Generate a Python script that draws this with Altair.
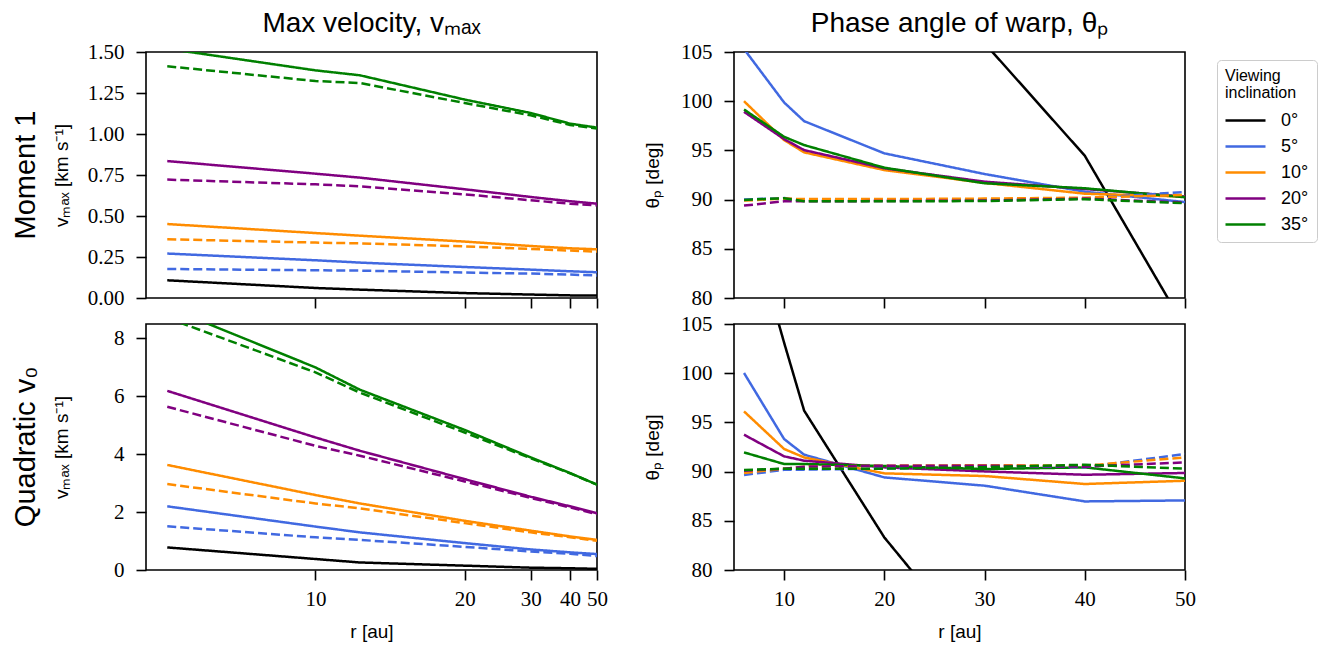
import altair as alt
import pandas as pd

R = [6, 10, 12, 20, 30, 40, 50]
INCLINATIONS = ["0°", "5°", "10°", "20°", "35°"]
COLORS = ["#000000", "#4169e1", "#ff8c00", "#800080", "#008000"]
STYLES = ["solid", "dashed"]
ROW_LABELS = ["Moment 1", "Quadratic v₀"]
COL_TITLES = ["Max velocity, vₘₐₓ", "Phase angle of warp, θₚ"]

# Moment 1 -- max velocity (km/s)
M1_V_SOLID_0 = [0.108, 0.061, 0.051, 0.030, 0.021, 0.016, 0.015]
M1_V_SOLID_5 = [0.271, 0.230, 0.216, 0.189, 0.173, 0.163, 0.157]
M1_V_SOLID_10 = [0.451, 0.396, 0.380, 0.344, 0.317, 0.303, 0.297]
M1_V_SOLID_20 = [0.835, 0.758, 0.734, 0.663, 0.616, 0.590, 0.575]
M1_V_SOLID_35 = [1.52, 1.388, 1.358, 1.210, 1.128, 1.063, 1.039]
M1_V_DASH_5 = [0.177, 0.169, 0.167, 0.155, 0.149, 0.143, 0.137]
M1_V_DASH_10 = [0.358, 0.338, 0.333, 0.315, 0.299, 0.289, 0.283]
M1_V_DASH_20 = [0.722, 0.693, 0.681, 0.632, 0.596, 0.575, 0.565]
M1_V_DASH_35 = [1.413, 1.323, 1.311, 1.189, 1.114, 1.055, 1.033]

# Quadratic v0 -- max velocity (km/s)
Q_V_SOLID_0 = [0.78, 0.38, 0.26, 0.15, 0.08, 0.06, 0.04]
Q_V_SOLID_5 = [2.20, 1.50, 1.30, 0.93, 0.71, 0.61, 0.55]
Q_V_SOLID_10 = [3.63, 2.59, 2.30, 1.70, 1.36, 1.16, 1.04]
Q_V_SOLID_20 = [6.19, 4.58, 4.12, 3.14, 2.53, 2.20, 1.96]
Q_V_SOLID_35 = [9.08, 7.00, 6.23, 4.84, 3.89, 3.35, 2.95]
Q_V_DASH_5 = [1.51, 1.13, 1.04, 0.80, 0.64, 0.56, 0.48]
Q_V_DASH_10 = [2.97, 2.30, 2.13, 1.62, 1.30, 1.13, 1.01]
Q_V_DASH_20 = [5.64, 4.29, 3.95, 3.06, 2.49, 2.16, 1.93]
Q_V_DASH_35 = [8.71, 6.83, 6.13, 4.75, 3.86, 3.34, 2.95]

# Moment 1 -- phase angle (deg)
M1_T_SOLID_0 = [140.0, 130.0, 125.0, 115.0, 105.9, 94.46, 77.0]
M1_T_SOLID_5 = [105.3, 99.87, 97.97, 94.70, 92.60, 90.80, 89.75]
M1_T_SOLID_10 = [100.0, 96.05, 94.80, 93.00, 91.70, 90.60, 90.30]
M1_T_SOLID_20 = [98.92, 96.15, 95.03, 93.18, 91.82, 91.08, 90.30]
M1_T_SOLID_35 = [99.16, 96.38, 95.54, 93.24, 91.66, 91.15, 90.24]
M1_T_DASH_5 = [90.00, 90.15, 89.95, 89.95, 90.00, 90.10, 90.78]
M1_T_DASH_10 = [89.90, 90.10, 90.05, 90.05, 90.10, 90.20, 90.47]
M1_T_DASH_20 = [89.39, 89.83, 89.83, 89.85, 89.90, 90.10, 89.70]
M1_T_DASH_35 = [89.97, 90.14, 89.83, 89.83, 89.85, 90.04, 89.63]

# Quadratic v0 -- phase angle (deg)
Q_T_SOLID_0 = [117.5, 103.1, 96.19, 83.31, 70.9, 62.0, 55.0]
Q_T_SOLID_5 = [100.02, 93.31, 91.72, 89.41, 88.57, 86.97, 87.07]
Q_T_SOLID_10 = [96.12, 92.30, 91.44, 89.82, 89.55, 88.74, 89.07]
Q_T_SOLID_20 = [93.75, 91.55, 91.11, 90.43, 90.02, 89.68, 89.86]
Q_T_SOLID_35 = [91.95, 90.77, 90.77, 90.57, 90.26, 90.43, 89.31]
Q_T_DASH_5 = [89.65, 90.19, 90.20, 90.30, 90.60, 90.45, 91.79]
Q_T_DASH_10 = [89.86, 90.30, 90.50, 90.60, 90.65, 90.60, 91.45]
Q_T_DASH_20 = [90.09, 90.30, 90.50, 90.60, 90.60, 90.50, 90.94]
Q_T_DASH_35 = [90.16, 90.30, 90.30, 90.30, 90.45, 90.70, 90.30]

X_TICKS = [10, 20, 30, 40, 50]


def frame(series):
    rows = []
    for incl, style, vals in series:
        for r, v in zip(R, vals):
            rows.append({"r": r, "value": v, "incl": incl, "style": style})
    return pd.DataFrame(rows)


def group(solid, dashed):
    out = [(INCLINATIONS[i], "solid", s) for i, s in enumerate(solid)]
    out += [(INCLINATIONS[i + 1], "dashed", d) for i, d in enumerate(dashed)]
    return out


df_m1_v = frame(group([M1_V_SOLID_0, M1_V_SOLID_5, M1_V_SOLID_10, M1_V_SOLID_20, M1_V_SOLID_35],
                      [M1_V_DASH_5, M1_V_DASH_10, M1_V_DASH_20, M1_V_DASH_35]))
df_q_v = frame(group([Q_V_SOLID_0, Q_V_SOLID_5, Q_V_SOLID_10, Q_V_SOLID_20, Q_V_SOLID_35],
                     [Q_V_DASH_5, Q_V_DASH_10, Q_V_DASH_20, Q_V_DASH_35]))
df_m1_t = frame(group([M1_T_SOLID_0, M1_T_SOLID_5, M1_T_SOLID_10, M1_T_SOLID_20, M1_T_SOLID_35],
                      [M1_T_DASH_5, M1_T_DASH_10, M1_T_DASH_20, M1_T_DASH_35]))
df_q_t = frame(group([Q_T_SOLID_0, Q_T_SOLID_5, Q_T_SOLID_10, Q_T_SOLID_20, Q_T_SOLID_35],
                     [Q_T_DASH_5, Q_T_DASH_10, Q_T_DASH_20, Q_T_DASH_35]))

W, H = 451, 246
SERIF = "Liberation Serif"
SANS = "Liberation Sans"

color_enc = alt.Color(
    "incl:N",
    scale=alt.Scale(domain=INCLINATIONS, range=COLORS),
    legend=alt.Legend(
        title=["Viewing", "inclination"],
        orient="none",
        legendX=1071,
        legendY=8,
        titleFont=SANS,
        titleFontSize=16,
        titleFontWeight="normal",
        titleColor="black",
        titleLineHeight=17,
        titlePadding=8,
        labelFont=SANS,
        labelFontSize=18,
        labelColor="black",
        labelOffset=24,
        symbolOffset=9,
        symbolType="M-2,0H2",
        symbolSize=400,
        symbolStrokeWidth=2.5,
        rowPadding=5,
        padding=8,
        strokeColor="#cccccc",
        cornerRadius=4,
        fillColor="white",
    ),
)
dash_enc = alt.StrokeDash(
    "style:N",
    scale=alt.Scale(domain=STYLES, range=[[1, 0], [9, 4]]),
    legend=None,
)


def panel(df, left, yscale, yticks, yfmt, ytitle, ytitle_x, bottom, title=None, row_label=None):
    if left:
        xscale = alt.Scale(type="pow", exponent=-0.5, domain=[5.63, 50], nice=False, zero=False)
    else:
        xscale = alt.Scale(domain=[5, 50], nice=False, zero=False)
    xaxis = alt.Axis(
        values=X_TICKS,
        labels=bottom,
        title="r [au]" if bottom else None,
        titleY=61,
        titleBaseline="middle",
        format="d",
        labelOverlap=False,
        labelFlush=False,
        labelBound=False,
    )
    yaxis = alt.Axis(
        values=yticks,
        format=yfmt,
        title=ytitle,
        titleX=ytitle_x,
        titleY=H / 2,
        titleAngle=270,
        titleAlign="center",
        titleBaseline="middle",
        labelOverlap=False,
        labelFlush=False,
    )
    props = dict(width=W, height=H)
    if title is not None:
        props["title"] = alt.TitleParams(
            title, fontSize=28, font=SANS, fontWeight="normal", color="black", offset=3
        )
    lines = alt.Chart(df).mark_line(clip=True, strokeWidth=2.5).encode(
        x=alt.X("r:Q", scale=xscale, axis=xaxis),
        y=alt.Y("value:Q", scale=yscale, axis=yaxis),
        color=color_enc,
        strokeDash=dash_enc,
    )
    if row_label is None:
        return lines.properties(**props)
    label = alt.Chart(pd.DataFrame({"label": [row_label]})).mark_text(
        angle=270, fontSize=29, font=SANS, color="black", baseline="middle", align="center"
    ).encode(text="label:N", x=alt.value(-120), y=alt.value(H / 2))
    return alt.layer(lines, label).properties(**props)


v_title = "vₘₐₓ [km s⁻¹]"
t_title = "θₚ  [deg]"

tl = panel(df_m1_v, True, alt.Scale(domain=[0, 1.5], nice=False),
           [0, 0.25, 0.5, 0.75, 1.0, 1.25, 1.5], ".2f", v_title, -85, False,
           COL_TITLES[0], ROW_LABELS[0])
tr = panel(df_m1_t, False, alt.Scale(domain=[80, 105], nice=False, zero=False),
           [80, 85, 90, 95, 100, 105], "d", t_title, -82, False,
           COL_TITLES[1])
bl = panel(df_q_v, True, alt.Scale(domain=[0, 8.5], nice=False),
           [0, 2, 4, 6, 8], "d", v_title, -85, True, None, ROW_LABELS[1])
br = panel(df_q_t, False, alt.Scale(domain=[80, 105], nice=False, zero=False),
           [80, 85, 90, 95, 100, 105], "d", t_title, -82, True)

chart = alt.concat(tl, tr, bl, br, columns=2, spacing={"row": 26, "column": 137}).properties(
    bounds="flush",
    padding={"left": 3, "top": 1, "right": 5, "bottom": 5},
).configure_view(
    stroke="black", strokeWidth=1.6
).configure_axis(
    domain=False,
    grid=False,
    ticks=True,
    tickColor="black",
    tickWidth=1.6,
    tickSize=10,
    labelFont=SERIF,
    labelFontSize=21,
    labelColor="black",
    titleFont=SANS,
    titleFontSize=19,
    titleFontWeight="normal",
    titleColor="black",
).configure_axisX(
    labelPadding=8
).configure_axisY(
    labelPadding=12
)

chart.save("out.html", embed_options={"renderer": "svg", "actions": False})
